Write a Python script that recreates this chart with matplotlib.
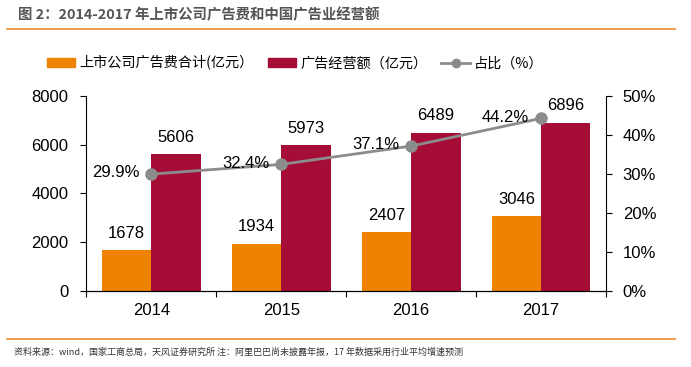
import matplotlib

matplotlib.use("Agg")
import matplotlib.pyplot as plt
from matplotlib.lines import Line2D
from matplotlib.patches import Patch
import numpy as np

plt.rcParams["font.family"] = ["Liberation Sans", "Noto Sans CJK SC", "DejaVu Sans"]
CJK = ["Noto Sans CJK SC", "DejaVu Sans"]

# data
years = ["2014", "2015", "2016", "2017"]
listed_ad = [1678, 1934, 2407, 3046]
industry_rev = [5606, 5973, 6489, 6896]
share_pct = [29.9, 32.4, 37.1, 44.2]

ORANGE = "#EF8300"
RED = "#A50D36"
GRAY = "#8C8C8C"
RULE = "#EB8A2F"

fig = plt.figure(figsize=(6.91, 3.67), dpi=100, facecolor="white")
ax = fig.add_axes([0.125, 0.208, 0.752, 0.531])
ax2 = ax.twinx()

x = np.arange(len(years))
w = 0.38
ax.bar(x - w / 2, listed_ad, w, color=ORANGE, zorder=2)
ax.bar(x + w / 2, industry_rev, w, color=RED, zorder=2)

for xi, v in zip(x, listed_ad):
    ax.text(xi - w / 2, v + 380, f"{v}", ha="center", va="bottom", fontsize=12)
for xi, v in zip(x, industry_rev):
    ax.text(xi + w / 2, v + 380, f"{v}", ha="center", va="bottom", fontsize=12)

ax2.plot(x, share_pct, color=GRAY, linewidth=2, marker="o", markersize=8, zorder=3)
for xi, v in zip(x, share_pct):
    ax2.text(xi - 0.09, v + 0.3, f"{v}%", ha="right", va="center", fontsize=12)

ax.set_xlim(-0.5, 3.5)
ax.set_ylim(0, 8000)
ax.set_yticks([0, 2000, 4000, 6000, 8000])
ax2.set_ylim(0, 50)
ax2.set_yticks([0, 10, 20, 30, 40, 50])
ax2.set_yticklabels([f"{t}%" for t in range(0, 60, 10)])

ax.set_xticks(x)
ax.set_xticklabels(years)
ax.set_xticks(np.arange(-0.5, 4, 1), minor=True)
ax.tick_params(axis="x", which="major", length=0, pad=9, labelsize=12)
ax.tick_params(axis="x", which="minor", length=4, direction="out", width=0.8)
ax.tick_params(axis="y", length=4, width=0.8, labelsize=12, pad=9)
ax2.tick_params(axis="y", length=4, width=0.8, labelsize=12, pad=8)

for a in (ax, ax2):
    a.spines["top"].set_visible(False)
    for s in ("left", "right", "bottom"):
        a.spines[s].set_linewidth(0.8)
ax.spines["right"].set_visible(False)
ax2.spines["left"].set_visible(False)

handles = [
    Patch(color=ORANGE, label="上市公司广告费合计(亿元）"),
    Patch(color=RED, label="广告经营额（亿元）"),
    Line2D([], [], color=GRAY, linewidth=2, marker="o", markersize=6, label="占比（%）"),
]
fig.legend(handles=handles, loc="center", bbox_to_anchor=(0.427, 0.828), ncol=3,
           frameon=False, prop={"family": CJK, "size": 10.2}, handlelength=2.0,
           handleheight=0.55, handletextpad=0.3, columnspacing=1.0)

# title, rules and footer
fig.text(0.026, 0.958, "图 2：2014-2017 年上市公司广告费和中国广告业经营额",
         fontsize=10.4, fontweight="bold", color="#555555", va="center", family=CJK)
fig.add_artist(Line2D([0.01, 0.977], [0.921, 0.921], color=RULE, linewidth=1.2))
fig.add_artist(Line2D([0.01, 0.977], [0.076, 0.076], color=RULE, linewidth=1.2))
fig.text(0.02, 0.04, "资料来源：wind，国家工商总局，天风证券研究所 注：阿里巴巴尚未披露年报，17 年数据采用行业平均增速预测",
         fontsize=6.5, color="#333333", va="center", family=CJK)

fig.savefig("out.png", dpi=100, facecolor="white")
